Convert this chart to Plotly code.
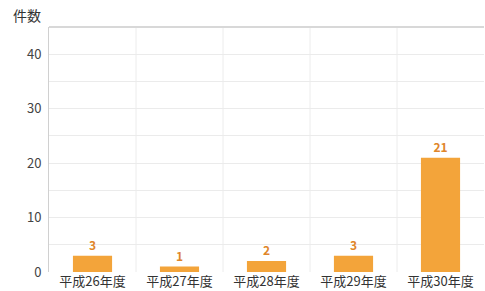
import plotly.graph_objects as go

categories = ["平成26年度", "平成27年度", "平成28年度", "平成29年度", "平成30年度"]
values = [3, 1, 2, 3, 21]
y_title = "件数"

font_family = "Noto Sans CJK JP, Noto Sans, sans-serif"

fig = go.Figure(go.Bar(
    x=categories, y=values,
    marker=dict(color="#F3A43A", line=dict(width=0)),
    width=0.45,
    text=[str(v) for v in values],
    textposition="outside",
    textfont=dict(color="#E0862A", size=12, family=font_family, weight="bold"),
    cliponaxis=False,
))

shapes = []
for i in range(len(categories) - 1):
    shapes.append(dict(type="line", xref="x", yref="paper", x0=i + 0.5, x1=i + 0.5,
                       y0=0, y1=1, line=dict(color="#ECECEC", width=1), layer="below"))
shapes.append(dict(type="line", xref="paper", yref="paper", x0=0, x1=1, y0=1, y1=1,
                   line=dict(color="#D8D8D8", width=2)))

fig.update_layout(
    width=485, height=291,
    margin=dict(l=49, r=1, t=27, b=19),
    paper_bgcolor="white", plot_bgcolor="white",
    font=dict(family=font_family, size=11, color="#444"),
    showlegend=False,
    bargap=0.55,
    shapes=shapes,
    xaxis=dict(showgrid=False, showline=False, ticks="", tickfont=dict(size=13, color="#333"),
               ticklabelstandoff=0, automargin=False),
    yaxis=dict(range=[0, 45], dtick=10, showgrid=True, gridcolor="#EBEBEB",
               minor=dict(dtick=5, showgrid=True, gridcolor="#EBEBEB"),
               showline=True, linecolor="#D0D0D0", linewidth=1, automargin=False,
               zeroline=False, tickfont=dict(size=13, color="#444"), ticks="", ticklabelstandoff=4),
    annotations=[dict(text=y_title, xref="paper", yref="paper", x=-0.087, y=1.0,
                      xanchor="left", yanchor="bottom", showarrow=False,
                      font=dict(size=14, color="#333"), yshift=0)],
)

fig.write_html("out.html", config={"displayModeBar": False},
               post_script="document.body.style.margin='0';document.body.style.overflow='hidden';")
